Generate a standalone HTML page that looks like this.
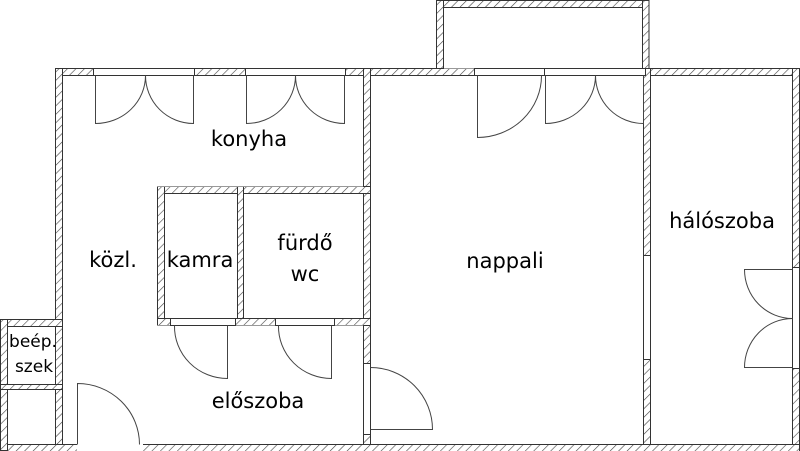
<!DOCTYPE html>
<html><head><meta charset="utf-8"><style>
html,body{margin:0;padding:0;background:#fff;}
svg{display:block;}
text{font-family:"DejaVu Sans","Liberation Sans",sans-serif;fill:#000;}
</style></head><body>
<svg width="800" height="451" viewBox="0 0 800 451" xmlns="http://www.w3.org/2000/svg">
<defs>
<pattern id="h" width="6" height="6" patternUnits="userSpaceOnUse" patternTransform="rotate(45)">
<rect width="6" height="6" fill="#fff"/>
<line x1="0" y1="0" x2="0" y2="6" stroke="#444" stroke-width="1.2"/>
</pattern>
</defs>
<g fill="url(#h)" stroke="#333" stroke-width="1">
<rect x="436.5" y="0.5" width="212" height="7"/>
<rect x="436.5" y="0.5" width="7" height="74"/>
<rect x="642.5" y="0.5" width="6.5" height="74"/>
<rect x="55.5" y="68.5" width="743.5" height="7"/>
<rect x="55.5" y="68.5" width="7" height="382"/>
<rect x="363.5" y="68.5" width="7" height="382"/>
<rect x="643.5" y="68.5" width="7" height="382"/>
<rect x="792.5" y="68.5" width="7" height="382"/>
<rect x="0.5" y="444.5" width="799" height="7"/>
<rect x="0.5" y="319.5" width="62" height="7"/>
<rect x="0.5" y="319.5" width="7" height="131"/>
<rect x="0.5" y="384.5" width="62" height="5"/>
<rect x="157.5" y="186.5" width="213" height="7"/>
<rect x="157.5" y="186.5" width="7" height="139"/>
<rect x="237.5" y="186.5" width="6" height="139"/>
<rect x="157.5" y="318.5" width="213" height="7"/>
</g>
<g fill="#fff" stroke="none">
<rect x="62.5" y="75.5" width="301" height="111"/>
<rect x="62.5" y="75.5" width="95" height="369"/>
<rect x="62.5" y="325.5" width="301" height="119"/>
<rect x="370.5" y="75.5" width="273" height="369"/>
<rect x="650.5" y="75.5" width="142" height="369"/>
<rect x="443.5" y="7.5" width="199" height="61"/>
<rect x="164.5" y="193.5" width="73" height="125"/>
<rect x="243.5" y="193.5" width="120" height="125"/>
<rect x="7.5" y="326.5" width="48" height="58"/>
<rect x="7.5" y="389.5" width="48" height="55"/>
</g>
<g fill="none" stroke="#333" stroke-width="1">
<path d="M62.5 75.5H363.5V186.5M370.5 75.5H643.5V444.5H370.5ZM650.5 75.5H792.5V444.5H650.5Z"/>
<path d="M443.5 68.5V7.5H642.5V68.5"/>
<path d="M62.5 75.5V444.5H363.5V325.5M157.5 186.5V325.5"/>
<rect x="164.5" y="193.5" width="73" height="125"/>
<rect x="243.5" y="193.5" width="120" height="125"/>
<rect x="7.5" y="326.5" width="48" height="58"/>
<rect x="7.5" y="389.5" width="48" height="55"/>
</g>
<g fill="#fff" stroke="#333" stroke-width="1">
<rect x="93.5" y="68.5" width="101" height="7"/>
<rect x="245.5" y="68.5" width="100" height="7"/>
<rect x="474.5" y="68.5" width="70" height="7"/>
<rect x="544.5" y="68.5" width="101" height="7"/>
<rect x="363.5" y="363.5" width="7" height="71"/>
<rect x="643.5" y="255.5" width="7" height="104"/>
<rect x="792.5" y="267.5" width="7" height="101"/>
<rect x="170.5" y="318.5" width="65" height="7"/>
<rect x="275.5" y="318.5" width="59" height="7"/>
<rect x="77" y="443" width="66" height="9" stroke="none"/>
</g>
<g fill="none" stroke="#444" stroke-width="1">
<path d="M95.5 75.5V123.5A50 48 0 0 0 145.5 75.5"/>
<path d="M193.5 75.5V123.5A48 48 0 0 1 145.5 75.5"/>
<path d="M246.5 75.5V123.5A49 48 0 0 0 295.5 75.5"/>
<path d="M344.5 75.5V123.5A49 48 0 0 1 295.5 75.5"/>
<path d="M477.5 75.5V137.5A64 62 0 0 0 541.5 75.5"/>
<path d="M545.5 75.5V123.5A50 48 0 0 0 595.5 75.5"/>
<path d="M643.5 75.5V123.5A48 48 0 0 1 595.5 75.5"/>
<path d="M792.5 269.5H744.5A48 49 0 0 0 792.5 318.5"/>
<path d="M792.5 367.5H744.5A48 49 0 0 1 792.5 318.5"/>
<path d="M370.5 429.5H432.5A62 62 0 0 0 370.5 367.5"/>
<path d="M227.5 325.5V378.5A53 52 0 0 1 174.5 325.5"/>
<path d="M331.5 325.5V378.5A53 52 0 0 1 278.5 325.5"/>
<path d="M77.5 444.5V383.5A62 61 0 0 1 139.5 444.5"/>
</g>
<g font-size="21" text-anchor="middle">
<text x="249" y="146">konyha</text>
<text x="113" y="267">közl.</text>
<text x="200" y="267">kamra</text>
<text x="305" y="250">fürdő</text>
<text x="305" y="281">wc</text>
<text x="505" y="268">nappali</text>
<text x="722" y="228">hálószoba</text>
<text x="258" y="408">előszoba</text>
</g>
<g font-size="17" text-anchor="middle">
<text x="33" y="347">beép.</text>
<text x="34" y="372">szek</text>
</g>
</svg>
</body></html>
